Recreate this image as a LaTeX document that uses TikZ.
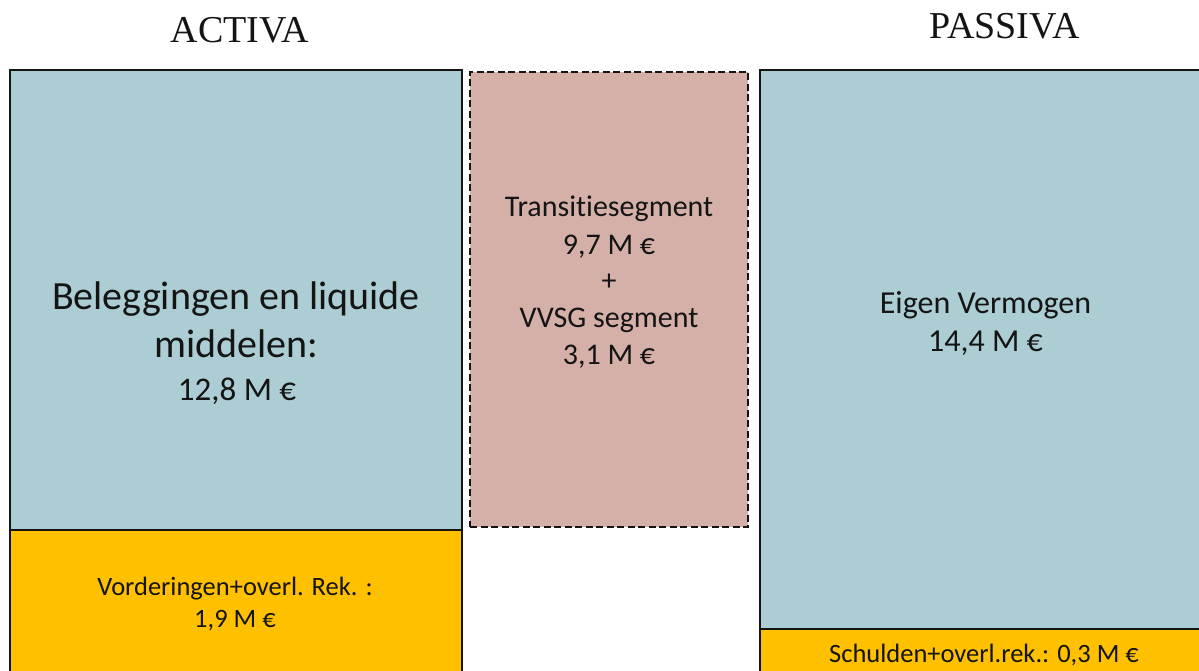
\documentclass[tikz,border=0pt]{standalone}
\usepackage{fontspec}
\setmainfont{Carlito}[Ligatures={NoCommon}]
\newfontfamily\titlefont{Liberation Serif}
\definecolor{boxblue}{RGB}{172,205,212}
\definecolor{boxorange}{RGB}{255,192,0}
\definecolor{boxpink}{RGB}{213,176,168}
\definecolor{inkdark}{RGB}{20,20,20}
\begin{document}
\begin{tikzpicture}[x=1pt,y=-1pt,
  blk/.style={draw=inkdark, line width=1.5pt, anchor=north west, inner sep=0pt, outer sep=0pt},
  dashblk/.style={blk, line width=1.7pt, dash pattern=on 7pt off 3.5pt},
  ttl/.style={anchor=base, inner sep=0pt, text=inkdark, font=\titlefont\fontsize{38}{44}\selectfont},
  big/.style={anchor=base, inner sep=0pt, text=inkdark, font=\fontsize{40}{48}\selectfont},
  mid/.style={anchor=base, inner sep=0pt, text=inkdark, font=\fontsize{33}{40}\selectfont},
  med/.style={anchor=base, inner sep=0pt, text=inkdark, font=\fontsize{30}{36}\selectfont},
  eig/.style={anchor=base, inner sep=0pt, text=inkdark, font=\fontsize{32}{38}\selectfont},
  sml/.style={anchor=base, inner sep=0pt, text=inkdark, font=\fontsize{26.5}{32}\selectfont}]
\useasboundingbox[fill=white] (0,0) rectangle (1199,671);
% boxes
\node[blk, fill=boxblue, minimum width=452pt, minimum height=460pt] (bel) at (10,70) {};
\node[blk, fill=boxorange, minimum width=452pt, minimum height=160pt] (vord) at (10,530) {};
\node[dashblk, fill=boxpink, minimum width=278pt, minimum height=455pt] (trans) at (470,72) {};
\node[blk, fill=boxblue, minimum width=460pt, minimum height=559pt] (eigen) at (760,70) {};
\node[blk, fill=boxorange, minimum width=460pt, minimum height=60pt] (schuld) at (760,629) {};
% titles
\node[ttl] (activa) at (240,43) {ACTIVA};
\node[ttl] (passiva) at (1004.5,39) {PASSIVA};
% texts
\node[big] (bel1) at (236,309) {Beleggingen en liquide};
\node[big] (bel2) at (236,357) {middelen:};
\node[mid] (bel3) at (237,400) {12,8 M €};
\node[med] (tr1) at (609,217) {Transitiesegment};
\node[med] (tr2) at (609,254) {9,7 M €};
\node[med] (tr3) at (609,290.5) {+};
\node[med] (tr4) at (609,327) {VVSG segment};
\node[med] (tr5) at (609,364) {3,1 M €};
\node[eig] (ei1) at (985.5,313) {Eigen Vermogen};
\node[eig] (ei2) at (985.5,351) {14,4 M €};
\node[sml] (vo1) at (235,595) {Vorderingen+overl. Rek. :};
\node[sml] (vo2) at (235,627) {1,9 M €};
\node[sml] (sc1) at (984,662) {Schulden+overl.rek.: 0,3 M €};
\end{tikzpicture}
\end{document}
